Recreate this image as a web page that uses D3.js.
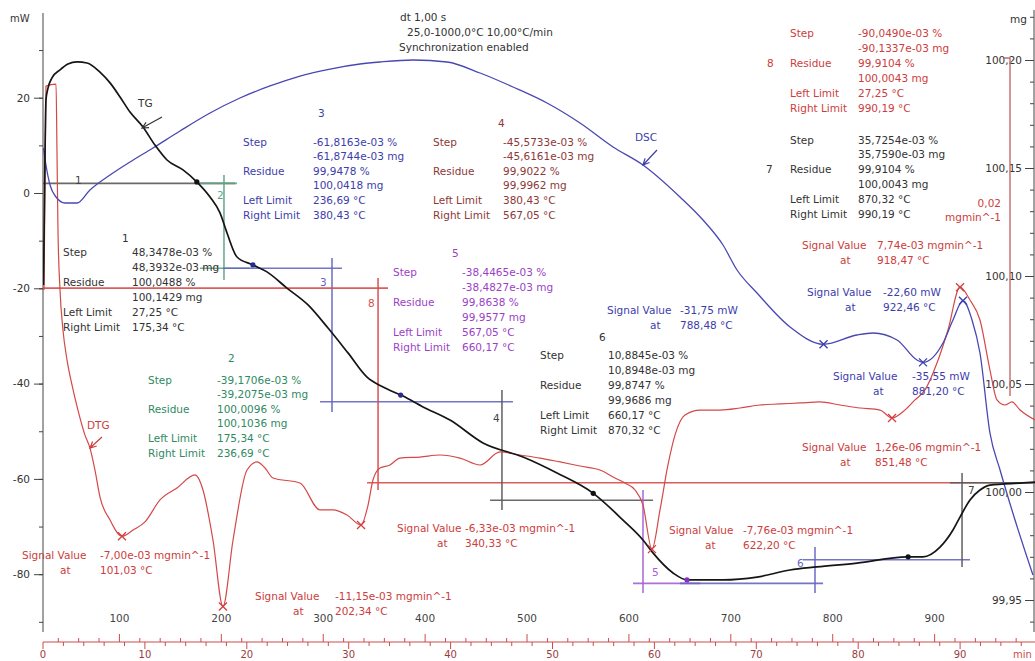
<!DOCTYPE html>
<html><head><meta charset="utf-8">
<script src="https://cdn.jsdelivr.net/npm/d3@7"></script>
<style>
html,body{margin:0;padding:0;background:#fff;}
svg{display:block;font-family:"DejaVu Sans",Verdana,sans-serif;font-size:10.5px;}
</style></head><body>
<svg id="chart" width="1035" height="661"></svg>
<script>
// ---- axis ticks ----
const timeTicks = [0,10,20,30,40,50,60,70,80,90];            // min
const tempTicks = [100,200,300,400,500,600,700,800,900];     // °C (program: 25 °C + 10 K/min)
const mwTicks = [20,0,-20,-40,-60,-80];                      // mW
const mgTicks = [100.20,100.15,100.10,100.05,100.00,99.95];  // mg

// ---- DSC heat flow (mW) vs time (min) ----
const dscTime = [0.05,0.29,0.69,1.28,2.16,3.34,4.61,6.58,8.54,10.79,13.44,16.39,19.33,22.28,25.22,28.17,31.11,33.07,36.31,39.65,42.89,46.12,49.46,52.70,55.94,58.88,62.51,64.77,66.73,68.11,70.07,73.31,76.60,79.88,81.45,83.81,85.77,86.36,88.32,89.30,90.28,91.17,91.95,92.93,93.92,95.39,97.15];
const dscMW = [9.44,5.88,1.68,-0.84,-2.10,-2.10,0.63,3.78,6.51,9.44,13.01,16.79,19.94,22.46,24.55,26.02,27.07,27.49,27.91,27.49,25.18,22.25,18.89,14.69,9.65,5.88,-0.84,-5.67,-10.91,-16.16,-20.99,-28.12,-31.75,-29.80,-29.38,-30.85,-35.05,-35.55,-31.48,-26.65,-22.60,-26.65,-33.58,-50.37,-58.13,-68.63,-80.17];

// ---- TG mass (mg) vs time (min) ----
const tgTime = [0.05,0.20,0.29,0.49,0.88,1.67,2.45,3.34,4.32,5.59,6.58,7.56,8.54,9.81,10.99,12.17,13.74,15.11,16.39,17.37,18.06,19.04,20.61,21.98,23.94,26.01,27.97,29.93,31.80,33.37,35.33,37.29,39.94,43.18,47.11,50.44,53.97,56.92,58.88,59.86,61.83,63.20,66.73,70.07,73.31,75.96,79.88,84.79,86.36,88.03,89.30,89.99,90.97,91.95,92.93,96.17,97.35];
const tgMass = [100.0958,100.1583,100.1815,100.1870,100.1917,100.1954,100.1981,100.1991,100.1986,100.1944,100.1894,100.1829,100.1759,100.1690,100.1606,100.1537,100.1491,100.1435,100.1366,100.1292,100.1199,100.1088,100.1051,100.1019,100.0944,100.0866,100.0759,100.0644,100.0532,100.0486,100.0444,100.0394,100.0333,100.0227,100.0162,100.0088,99.9995,99.9870,99.9778,99.9718,99.9625,99.9593,99.9593,99.9606,99.9639,99.9653,99.9671,99.9700,99.9700,99.9745,99.9824,99.9884,99.9963,100.0009,100.0032,100.0042,100.0046];

// ---- DTG rate (10^-3 mg/min) vs time (min) ----
const dtgTime = [0.10,0.29,1.28,1.37,1.47,1.67,1.96,2.36,2.85,3.43,4.12,4.61,5.10,5.59,6.58,7.75,8.83,10.01,11.48,13.15,14.92,15.70,16.68,17.66,18.65,20.02,21.00,21.79,22.57,25.22,27.18,28.46,29.83,31.21,31.90,32.38,33.07,34.05,35.03,37.00,38.96,40.92,42.89,44.85,46.81,48.77,50.74,52.70,54.66,56.13,57.11,58.10,58.88,59.76,60.55,61.33,62.02,63.00,64.48,66.44,68.40,70.36,72.33,74.29,76.25,78.21,80.18,82.14,83.32,84.59,85.57,86.56,87.73,88.81,89.99,90.97,91.95,92.93,93.62,94.41,95.09,95.88,97.35];
const dtgRate = [7.57,19.64,19.76,15.86,11.12,7.57,5.21,3.43,1.95,0.47,-1.01,-1.78,-3.08,-4.67,-6.04,-7.00,-6.63,-6.15,-4.85,-4.14,-3.37,-4.26,-7.22,-11.15,-7.22,-3.08,-2.60,-2.96,-3.55,-3.85,-5.44,-5.44,-5.74,-6.33,-5.15,-3.67,-2.96,-2.78,-2.37,-2.31,-2.19,-2.37,-2.78,-2.01,-2.19,-2.37,-2.60,-2.84,-3.08,-3.55,-3.85,-4.26,-5.15,-7.76,-5.44,-2.78,-1.01,0.18,0.47,0.47,0.59,0.77,0.83,0.89,0.95,0.77,0.59,0.47,0.00126,0.47,1.07,1.66,3.25,5.21,7.74,6.98,5.80,2.84,1.07,0.77,0.95,0.47,-0.12];

// ---- evaluated signal values (time, value, sample temperature °C) ----
const dscPeakTime = [76.60, 86.36, 90.28];
const dscPeakMW   = [-31.75, -35.55, -22.60];
const dscPeakTemp = [788.48, 881.20, 922.46];
const dtgPeakTime = [7.75, 17.66, 31.21, 59.76, 83.32, 89.99];
const dtgPeakRate = [-7.00, -11.15, -6.33, -7.76, 0.00126, 7.74];   // 10^-3 mg/min
const dtgPeakTemp = [101.03, 202.34, 340.33, 622.20, 851.48, 918.47];

// ---- TG step evaluations ----
const stepColor = {1:"k", 2:"g", 3:"b", 4:"k", 5:"p", 6:"b", 7:"k", 8:"r"};
// step lines: [step, t1, m1, t2, m2]
const stepLines = [
  [1, 0, 100.1429, 18.84, 100.1429],
  [2, 17.76, 100.1468, 17.76, 100.0981],
  [2, 15.41, 100.1429, 19.04, 100.1429],
  [2, 15.41, 100.1036, 20.31, 100.1036],
  [3, 17.66, 100.1036, 29.34, 100.1036],
  [3, 28.36, 100.1083, 28.36, 100.0370],
  [3, 27.18, 100.0418, 46.12, 100.0418],
  [8, 0, 100.0944, 33.86, 100.0944],
  [8, 32.88, 100.0991, 32.88, 100.0009],
  [8, 31.80, 100.0043, 97.35, 100.0043],
  [4, 45.04, 100.0472, 45.04, 99.9917],
  [4, 43.87, 99.9962, 59.86, 99.9962],
  [5, 58.88, 100.0009, 58.88, 99.9532],
  [5, 57.90, 99.9577, 64.50, 99.9577],
  [6, 62.51, 99.9577, 76.55, 99.9577],
  [6, 75.76, 99.9745, 75.76, 99.9532],
  [6, 74.58, 99.9686, 90.97, 99.9686],
  [7, 90.19, 100.0088, 90.19, 99.9653],
  [7, 89.00, 100.0043, 97.35, 100.0043]
];
const stepPointTime = [15.1, 20.6, 35.1, 54.0, 63.2, 84.9];
const stepPointStep = [1, 3, 3, 4, 5, 7];

// ---- colours ----
const TXT = {k:"#333333", r:"#cc3d3d", b:"#3d3dab", g:"#2f8a62", p:"#9b3fc6", m:"#8e3838"};
const LINE = {k:"#5a5a5a", r:"#d84c4c", b:"#6666c4", g:"#5fa582", p:"#a462d4"};

// ---- scales ----
const svg = d3.select("#chart");
const x  = d3.scaleLinear().domain([0, 97.35]).range([43, 1035]);
const yL = d3.scaleLinear().domain([-80, 20]).range([574.2, 97.7]);       // mW
const yR = d3.scaleLinear().domain([100.00, 100.20]).range([492, 60]);    // mg
const yD = d3.scaleLinear().domain([0, 7.74]).range([418, 287.2]);        // 10^-3 mg/min
const tOfT = T => (T - 25) / 10;
const comma = s => s.replace(".", ",").replace("\u2212", "-");

svg.append("defs").append("clipPath").attr("id","plot")
  .append("rect").attr("x",43).attr("y",8).attr("width",992).attr("height",628);

// ---- left axis (mW) ----
const axL = svg.append("g").attr("transform","translate(43,0)").attr("color","#444");
axL.append("line").attr("x1",0).attr("x2",0).attr("y1",13).attr("y2",632).attr("stroke","#444");
axL.append("g").call(d3.axisLeft(yL).tickValues(d3.range(-90,31,10)).tickSize(4).tickFormat(""))
  .call(g=>g.select(".domain").remove());
axL.append("g").call(d3.axisLeft(yL).tickValues(mwTicks).tickSize(9).tickFormat(d=>comma(String(d))))
  .call(g=>g.select(".domain").remove())
  .call(g=>g.selectAll("text").attr("font-size","10.5px").attr("font-family","DejaVu Sans").attr("fill","#333").attr("dx","-1"));
svg.append("text").attr("x",10).attr("y",18).attr("dy",".35em").attr("fill","#333").attr("font-size","10px").text("mW");

// ---- right axis (mg) ----
const axR = svg.append("g").attr("transform","translate(1034,0)").attr("color","#444");
axR.append("line").attr("x1",0).attr("x2",0).attr("y1",10).attr("y2",632).attr("stroke","#444");
axR.append("g").call(d3.axisLeft(yR).tickValues(d3.range(9994,10023).map(v=>v/100)).tickSize(4).tickFormat(""))
  .call(g=>g.select(".domain").remove());
axR.append("g").call(d3.axisLeft(yR).tickValues(mgTicks).tickSize(9).tickFormat(d=>comma(d3.format(".2f")(d))))
  .call(g=>g.select(".domain").remove())
  .call(g=>g.selectAll("text").attr("font-size","10.5px").attr("font-family","DejaVu Sans").attr("fill","#333"));
svg.append("text").attr("x",1010).attr("y",19).attr("dy",".35em").attr("fill","#333").text("mg");

// ---- bottom axis: time (below) and program temperature (above) ----
const axB = svg.append("g").attr("transform","translate(0,642)");
const red = "#cf4a4a";
axB.append("line").attr("x1",43).attr("x2",1035).attr("stroke",red);
const tMinor = d3.range(0, 97, 2);
axB.selectAll(".tm").data(tMinor).join("line")
  .attr("x1",d=>x(d)).attr("x2",d=>x(d)).attr("y1",0).attr("y2",d=>d%10===0?7:4).attr("stroke",red);
const TMinor = d3.range(40, 1000, 20);
axB.selectAll(".Tm").data(TMinor).join("line")
  .attr("x1",d=>x(tOfT(d))).attr("x2",d=>x(tOfT(d))).attr("y1",0).attr("y2",d=>d%100===0?-8:-4).attr("stroke",red);
axB.selectAll(".tl").data(timeTicks).join("text")
  .attr("x",d=>x(d)).attr("y",12).attr("dy",".35em").attr("text-anchor","middle")
  .attr("font-size","10px").attr("fill","#9a3c3c").text(d=>d);
axB.selectAll(".Tl").data(tempTicks).join("text")
  .attr("x",d=>x(tOfT(d))).attr("y",-24).attr("dy",".35em").attr("text-anchor","middle").attr("fill","#444").text(d=>d);
svg.append("text").attr("x",1013).attr("y",654).attr("dy",".35em").attr("font-size","10px").attr("fill",red).text("min");

// ---- step lines ----
const plot = svg.append("g").attr("clip-path","url(#plot)");
plot.selectAll(".step").data(stepLines).join("line")
  .attr("x1",d=>x(d[1])).attr("y1",d=>yR(d[2])).attr("x2",d=>x(d[3])).attr("y2",d=>yR(d[4]))
  .attr("stroke",d=>LINE[stepColor[d[0]]]).attr("stroke-width",1.6).attr("opacity",0.9);

// DTG scale bar (0,02 mg/min)
plot.append("path")
  .attr("d",`M1004,${yD(21.3)}H1010V${yD(1.3)}`)
  .attr("fill","none").attr("stroke","#c46a6a").attr("stroke-width",1.4);

// ---- curves ----
const curve = (ts, vs, ys) => d3.line().curve(d3.curveMonotoneX).x(i=>x(ts[i])).y(i=>ys(vs[i]))(d3.range(ts.length));
plot.append("path").attr("d",curve(dtgTime,dtgRate,yD)).attr("fill","none").attr("stroke","#d44848").attr("stroke-width",1.2);
plot.append("path").attr("d",curve(dscTime,dscMW,yL)).attr("fill","none").attr("stroke","#4848b2").attr("stroke-width",1.3);
plot.append("path").attr("d",curve(tgTime,tgMass,yR)).attr("fill","none").attr("stroke","#151515").attr("stroke-width",1.7);

// step points on the TG curve
const tgAt = t => { const i = d3.bisectLeft(tgTime, t); const a = i-1, b = i;
  const f = (t - tgTime[a])/(tgTime[b]-tgTime[a]); return tgMass[a] + f*(tgMass[b]-tgMass[a]); };
plot.selectAll(".sp").data(stepPointTime).join("circle")
  .attr("cx",d=>x(d)).attr("cy",d=>yR(tgAt(d))).attr("r",2.6)
  .attr("fill",(d,i)=>({k:"#111",b:"#2a2a90",p:"#8a30c0"})[stepColor[stepPointStep[i]]]);

// signal markers
const cross = (g, cx, cy, col) => g.append("path")
  .attr("d",`M${cx-4},${cy-4}L${cx+4},${cy+4}M${cx-4},${cy+4}L${cx+4},${cy-4}`)
  .attr("stroke",col).attr("stroke-width",1.3);
dtgPeakTime.forEach((t,i)=>cross(plot, x(t), yD(dtgPeakRate[i]), "#d43c3c"));
dscPeakTime.forEach((t,i)=>cross(plot, x(t), yL(dscPeakMW[i]), "#3c3cb0"));

// ---- text helpers ----
const txt = (s, px, py, col, anchor) => svg.append("text").attr("x",px).attr("y",py).attr("dy",".35em")
  .attr("fill",col).attr("text-anchor",anchor||"start").text(s);
const arrow = (x1,y1,x2,y2,col) => {
  const a = Math.atan2(y2-y1, x2-x1), L = 7, s = 0.45;
  svg.append("path").attr("d",`M${x1},${y1}L${x2},${y2}M${x2-L*Math.cos(a-s)},${y2-L*Math.sin(a-s)}L${x2},${y2}L${x2-L*Math.cos(a+s)},${y2-L*Math.sin(a+s)}`)
    .attr("fill","none").attr("stroke",col).attr("stroke-width",1.2);
};
const eng = v => { // engineering notation with decimal comma
  const e = 3*Math.floor(Math.log10(Math.abs(v))/3), m = v/Math.pow(10,e);
  return m.toFixed(2).replace(".",",") + "e" + (e<0?"-":"+") + String(Math.abs(e)).padStart(2,"0");
};
const degC = T => T.toFixed(2).replace(".",",") + " °C";

// header
txt("dt 1,00 s", 400, 17, TXT.k);
txt("25,0-1000,0°C 10,00°C/min", 407, 32, TXT.k);
txt("Synchronization enabled", 399, 47, TXT.k);

// curve labels
txt("TG", 138, 103, TXT.k); arrow(162,117,142,128,"#333");
txt("DSC", 635, 137, TXT.b); arrow(657,150,643,165,"#3d3dab");
txt("DTG", 87, 425, TXT.r); arrow(102,437,90,448,"#cc3d3d");

// step numbers at the step lines
[["1",75,180,"k"],["2",217,195,"g"],["3",320,282,"b"],["8",368,303,"r"],["4",493,418,"k"],
 ["5",652,572,"p"],["6",797,563,"b"],["7",968,490,"k"]].forEach(d=>txt(d[0],d[1],d[2],LINE[d[3]]==="#5a5a5a"?"#444":LINE[d[3]]));

// step result blocks
const block = (num, nx, ny, lx, vx, y0, dy, col, rows, numRow) => {
  if (numRow === undefined) txt(num, nx, ny, col);
  rows.forEach((r,i)=>{ if (r[0]) txt(r[0], lx, y0+i*dy, col); txt(r[1], vx, y0+i*dy, col); });
  if (numRow !== undefined) txt(num, nx, y0+numRow*dy, col);
};
block("1",122,238,63,132,252,15,TXT.k,[["Step","48,3478e-03 %"],["","48,3932e-03 mg"],["Residue","100,0488 %"],["","100,1429 mg"],["Left Limit","27,25 °C"],["Right Limit","175,34 °C"]]);
block("2",228,358,148,217,380,14.6,TXT.g,[["Step","-39,1706e-03 %"],["","-39,2075e-03 mg"],["Residue","100,0096 %"],["","100,1036 mg"],["Left Limit","175,34 °C"],["Right Limit","236,69 °C"]]);
block("3",318,113,243,313,142,14.6,TXT.b,[["Step","-61,8163e-03 %"],["","-61,8744e-03 mg"],["Residue","99,9478 %"],["","100,0418 mg"],["Left Limit","236,69 °C"],["Right Limit","380,43 °C"]]);
block("4",498,123,433,503,142,14.6,TXT.m,[["Step","-45,5733e-03 %"],["","-45,6161e-03 mg"],["Residue","99,9022 %"],["","99,9962 mg"],["Left Limit","380,43 °C"],["Right Limit","567,05 °C"]]);
block("5",452,253,393,462,272,15,TXT.p,[["Step","-38,4465e-03 %"],["","-38,4827e-03 mg"],["Residue","99,8638 %"],["","99,9577 mg"],["Left Limit","567,05 °C"],["Right Limit","660,17 °C"]]);
block("6",599,337,540,608,355,15,TXT.k,[["Step","10,8845e-03 %"],["","10,8948e-03 mg"],["Residue","99,8747 %"],["","99,9686 mg"],["Left Limit","660,17 °C"],["Right Limit","870,32 °C"]]);
block("8",767,0,790,858,33,15,TXT.r,[["Step","-90,0490e-03 %"],["","-90,1337e-03 mg"],["Residue","99,9104 %"],["","100,0043 mg"],["Left Limit","27,25 °C"],["Right Limit","990,19 °C"]],2);
block("7",766,0,790,858,140,14.8,TXT.k,[["Step","35,7254e-03 %"],["","35,7590e-03 mg"],["Residue","99,9104 %"],["","100,0043 mg"],["Left Limit","870,32 °C"],["Right Limit","990,19 °C"]],2);

// signal value annotations
const signal = (lx, ax, vx, y, value, temp, col) => {
  txt("Signal Value", lx, y, col); txt(value, vx, y, col);
  txt("at", ax, y+15, col); txt(temp, vx, y+15, col);
};
const dscLab = [[607,650,680,310],[833,873,912,376],[807,845,883,292]];
dscPeakMW.forEach((v,i)=>{ const p = dscLab[i];
  signal(p[0],p[1],p[2],p[3], v.toFixed(2).replace(".",",")+" mW", degC(dscPeakTemp[i]), TXT.b); });
const dtgLab = [[22,60,100,555],[255,293,335,596],[397,437,465,528],[669,705,743,530],[802,840,875,447],[802,840,877,245]];
dtgPeakRate.forEach((v,i)=>{ const p = dtgLab[i];
  signal(p[0],p[1],p[2],p[3], eng(v*1e-3)+" mgmin^-1", degC(dtgPeakTemp[i]), TXT.r); });

// DTG scale bar label
txt("0,02", 1001, 203, TXT.r, "end");
txt("mgmin^-1", 1001, 217, TXT.r, "end");
</script>
</body></html>
